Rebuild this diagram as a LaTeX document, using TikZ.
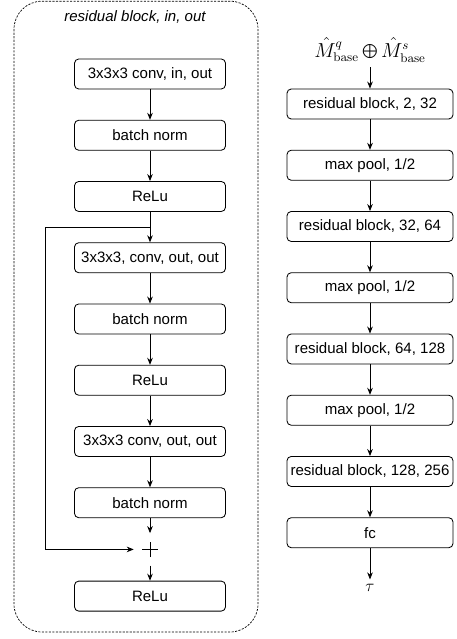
\documentclass[tikz,border=0pt]{standalone}
\usepackage[no-math]{fontspec}
\setmainfont{Liberation Sans}
\usetikzlibrary{positioning,arrows.meta,calc}
\tikzset{
layer/.style={
	  draw, rounded corners=3pt, line width=0.6pt,
	    minimum width=3.775cm, minimum height=0.75cm, inner xsep=2pt},
widelayer/.style={layer, minimum width=4.15cm},
flow/.style={-{Stealth[length=5pt,width=4pt]}, line width=0.6pt}
}

\begin{document}
\begin{tikzpicture}[node distance=0.76cm, font=\fontsize{10.7}{12}\selectfont]
	\useasboundingbox (0,0) rectangle (11.4,-15.975);
	% residual block
	\draw[dash pattern=on 1.5pt off 1pt, rounded corners=0.7cm, line width=0.5pt]
		(0.35,-0.03) rectangle (6.45,-15.8);
	\node[font=\fontsize{10.7}{12}\selectfont\itshape] (title) at (3.375,-0.425) {residual block, in, out};
	\node[layer] (b1) at (3.75,-1.85) {3x3x3 conv, in, out};
	\node[layer, below=of b1] (b2) {batch norm};
	\node[layer, below=of b2] (b3) {ReLu};
	\node[layer, below=of b3] (b4) {3x3x3, conv, out, out};
	\node[layer, below=of b4] (b5) {batch norm};
	\node[layer, below=of b5] (b6) {ReLu};
	\node[layer, below=of b6] (b7) {3x3x3 conv, out, out};
	\node[layer, below=of b7] (b8) {batch norm};
	\node[minimum size=0.8cm, inner sep=0pt, below=0.375cm of b8] (sum) {};
	\node[layer, below=0.375cm of sum] (b9) {ReLu};
	\draw[line width=0.6pt] ([xshift=-0.19cm]sum.center) -- ([xshift=0.19cm]sum.center)
		([yshift=-0.19cm]sum.center) -- ([yshift=0.19cm]sum.center);
	\draw[flow] (b1) -- (b2);
	\draw[flow] (b2) -- (b3);
	\draw[flow] (b3) -- (b4);
	\draw[flow] (b4) -- (b5);
	\draw[flow] (b5) -- (b6);
	\draw[flow] (b6) -- (b7);
	\draw[flow] (b7) -- (b8);
	\draw[flow] (b8) -- (sum);
	\draw[flow] (sum) -- (b9);
	% skip connection
	\coordinate (split) at ($(b3.south)!0.5!(b4.north)$);
	\draw[flow] (split) -- ++(-2.625,0) |- (sum.west);

	% network
	\node[font=\fontsize{13.5}{15}\selectfont] (input) at (9.25,-1.25)
		{$\hat{M}^q_{\mathrm{base}} \bigoplus \hat{M}^s_{\mathrm{base}}$};
	\node[widelayer] (r1) at (9.25,-2.6) {residual block, 2, 32};
	\node[widelayer, below=of r1] (r2) {max pool, 1/2};
	\node[widelayer, below=of r2] (r3) {residual block, 32, 64};
	\node[widelayer, below=of r3] (r4) {max pool, 1/2};
	\node[widelayer, below=of r4] (r5) {residual block, 64, 128};
	\node[widelayer, below=of r5] (r6) {max pool, 1/2};
	\node[widelayer, below=of r6] (r7) {residual block, 128, 256};
	\node[widelayer, below=of r7] (r8) {fc};
	\node[font=\fontsize{12}{14}\selectfont] (output) at (9.25,-14.7) {$\tau$};
	\draw[flow] (input) -- (r1);
	\draw[flow] (r1) -- (r2);
	\draw[flow] (r2) -- (r3);
	\draw[flow] (r3) -- (r4);
	\draw[flow] (r4) -- (r5);
	\draw[flow] (r5) -- (r6);
	\draw[flow] (r6) -- (r7);
	\draw[flow] (r7) -- (r8);
	\draw[flow] (r8) -- (output);
\end{tikzpicture}
\end{document}
